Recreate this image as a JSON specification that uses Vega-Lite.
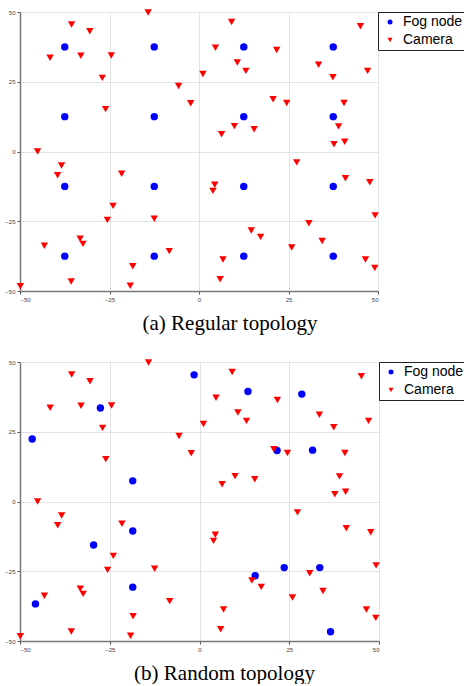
{
  "$schema": "https://vega.github.io/schema/vega-lite/v6.json",
  "padding": {"left": 3, "top": 9, "right": 0, "bottom": 0},
  "background": "white",
  "datasets": {
    "points": [
      {"topology": "regular", "kind": "Fog node", "x": -37.5, "y": 37.5},
      {"topology": "regular", "kind": "Fog node", "x": -12.5, "y": 37.5},
      {"topology": "regular", "kind": "Fog node", "x": 12.5, "y": 37.5},
      {"topology": "regular", "kind": "Fog node", "x": 37.5, "y": 37.5},
      {"topology": "regular", "kind": "Fog node", "x": -37.5, "y": 12.5},
      {"topology": "regular", "kind": "Fog node", "x": -12.5, "y": 12.5},
      {"topology": "regular", "kind": "Fog node", "x": 12.5, "y": 12.5},
      {"topology": "regular", "kind": "Fog node", "x": 37.5, "y": 12.5},
      {"topology": "regular", "kind": "Fog node", "x": -37.5, "y": -12.5},
      {"topology": "regular", "kind": "Fog node", "x": -12.5, "y": -12.5},
      {"topology": "regular", "kind": "Fog node", "x": 12.5, "y": -12.5},
      {"topology": "regular", "kind": "Fog node", "x": 37.5, "y": -12.5},
      {"topology": "regular", "kind": "Fog node", "x": -37.5, "y": -37.5},
      {"topology": "regular", "kind": "Fog node", "x": -12.5, "y": -37.5},
      {"topology": "regular", "kind": "Fog node", "x": 12.5, "y": -37.5},
      {"topology": "regular", "kind": "Fog node", "x": 37.5, "y": -37.5},
      {"topology": "random", "kind": "Fog node", "x": -46.6, "y": 22.4},
      {"topology": "random", "kind": "Fog node", "x": -27.6, "y": 33.5},
      {"topology": "random", "kind": "Fog node", "x": -1.5, "y": 45.4},
      {"topology": "random", "kind": "Fog node", "x": -18.6, "y": 7.4},
      {"topology": "random", "kind": "Fog node", "x": 13.5, "y": 39.4},
      {"topology": "random", "kind": "Fog node", "x": 28.5, "y": 38.5},
      {"topology": "random", "kind": "Fog node", "x": 21.6, "y": 18.3},
      {"topology": "random", "kind": "Fog node", "x": 31.5, "y": 18.4},
      {"topology": "random", "kind": "Fog node", "x": -18.6, "y": -10.6},
      {"topology": "random", "kind": "Fog node", "x": -29.5, "y": -15.6},
      {"topology": "random", "kind": "Fog node", "x": -18.6, "y": -30.7},
      {"topology": "random", "kind": "Fog node", "x": -45.7, "y": -36.7},
      {"topology": "random", "kind": "Fog node", "x": 23.6, "y": -23.7},
      {"topology": "random", "kind": "Fog node", "x": 33.5, "y": -23.7},
      {"topology": "random", "kind": "Fog node", "x": 15.5, "y": -26.6},
      {"topology": "random", "kind": "Fog node", "x": 36.5, "y": -46.7},
      {"topology": "both", "kind": "Camera", "x": -41.6, "y": 33.6},
      {"topology": "both", "kind": "Camera", "x": -35.6, "y": 45.5},
      {"topology": "both", "kind": "Camera", "x": -30.5, "y": 43.1},
      {"topology": "both", "kind": "Camera", "x": -33.0, "y": 34.3},
      {"topology": "both", "kind": "Camera", "x": -24.5, "y": 34.4},
      {"topology": "both", "kind": "Camera", "x": -27.0, "y": 26.4},
      {"topology": "both", "kind": "Camera", "x": -26.1, "y": 15.2},
      {"topology": "both", "kind": "Camera", "x": -14.2, "y": 49.8},
      {"topology": "both", "kind": "Camera", "x": -5.7, "y": 23.5},
      {"topology": "both", "kind": "Camera", "x": -2.3, "y": 17.3},
      {"topology": "both", "kind": "Camera", "x": 1.1, "y": 27.8},
      {"topology": "both", "kind": "Camera", "x": 4.6, "y": 37.2},
      {"topology": "both", "kind": "Camera", "x": 6.3, "y": 6.2},
      {"topology": "both", "kind": "Camera", "x": -45.1, "y": 0.0},
      {"topology": "both", "kind": "Camera", "x": 9.1, "y": 46.4},
      {"topology": "both", "kind": "Camera", "x": 21.7, "y": 36.4},
      {"topology": "both", "kind": "Camera", "x": 10.7, "y": 31.9},
      {"topology": "both", "kind": "Camera", "x": 13.1, "y": 28.9},
      {"topology": "both", "kind": "Camera", "x": 45.1, "y": 44.9},
      {"topology": "both", "kind": "Camera", "x": 33.4, "y": 31.1},
      {"topology": "both", "kind": "Camera", "x": 37.4, "y": 26.6},
      {"topology": "both", "kind": "Camera", "x": 47.1, "y": 28.9},
      {"topology": "both", "kind": "Camera", "x": 20.7, "y": 18.7},
      {"topology": "both", "kind": "Camera", "x": 24.5, "y": 17.4},
      {"topology": "both", "kind": "Camera", "x": 9.9, "y": 9.1},
      {"topology": "both", "kind": "Camera", "x": 15.4, "y": 8.0},
      {"topology": "both", "kind": "Camera", "x": 40.5, "y": 17.4},
      {"topology": "both", "kind": "Camera", "x": 39.0, "y": 9.0},
      {"topology": "both", "kind": "Camera", "x": 37.7, "y": 2.6},
      {"topology": "both", "kind": "Camera", "x": 40.7, "y": 3.5},
      {"topology": "both", "kind": "Camera", "x": -38.4, "y": -5.0},
      {"topology": "both", "kind": "Camera", "x": -39.5, "y": -8.5},
      {"topology": "both", "kind": "Camera", "x": -21.6, "y": -8.0},
      {"topology": "both", "kind": "Camera", "x": -24.0, "y": -19.5},
      {"topology": "both", "kind": "Camera", "x": -25.6, "y": -24.5},
      {"topology": "both", "kind": "Camera", "x": -12.5, "y": -24.1},
      {"topology": "both", "kind": "Camera", "x": -33.2, "y": -31.3},
      {"topology": "both", "kind": "Camera", "x": -32.4, "y": -33.1},
      {"topology": "both", "kind": "Camera", "x": -43.2, "y": -33.8},
      {"topology": "both", "kind": "Camera", "x": -8.3, "y": -35.7},
      {"topology": "both", "kind": "Camera", "x": -18.5, "y": -41.1},
      {"topology": "both", "kind": "Camera", "x": -35.7, "y": -46.6},
      {"topology": "both", "kind": "Camera", "x": -19.2, "y": -48.1},
      {"topology": "both", "kind": "Camera", "x": -49.9, "y": -48.3},
      {"topology": "both", "kind": "Camera", "x": 4.4, "y": -11.9},
      {"topology": "both", "kind": "Camera", "x": 3.9, "y": -14.1},
      {"topology": "both", "kind": "Camera", "x": 6.7, "y": -38.7},
      {"topology": "both", "kind": "Camera", "x": 5.9, "y": -45.8},
      {"topology": "both", "kind": "Camera", "x": 27.3, "y": -3.9},
      {"topology": "both", "kind": "Camera", "x": 40.9, "y": -9.6},
      {"topology": "both", "kind": "Camera", "x": 47.7, "y": -11.0},
      {"topology": "both", "kind": "Camera", "x": 49.2, "y": -22.9},
      {"topology": "both", "kind": "Camera", "x": 30.7, "y": -25.7},
      {"topology": "both", "kind": "Camera", "x": 14.6, "y": -28.3},
      {"topology": "both", "kind": "Camera", "x": 17.2, "y": -30.6},
      {"topology": "both", "kind": "Camera", "x": 34.4, "y": -32.1},
      {"topology": "both", "kind": "Camera", "x": 25.9, "y": -34.4},
      {"topology": "both", "kind": "Camera", "x": 46.5, "y": -38.7},
      {"topology": "both", "kind": "Camera", "x": 49.1, "y": -41.7}
    ]
  },
  "spacing": 25,
  "vconcat": [
    {
      "width": 358,
      "height": 279,
      "data": {"name": "points"},
      "transform": [{"filter": "datum.topology == 'regular' || datum.topology == 'both'"}],
      "title": {"text": "(a) Regular topology", "orient": "bottom", "anchor": "middle", "frame": "group", "dx": 31, "offset": 11},
      "mark": {"type": "point", "filled": true, "opacity": 1, "size": 55},
      "encoding": {
        "x": {"field": "x", "type": "quantitative", "scale": {"domain": [-50, 50], "nice": false}, "axis": {"values": [-50, -25, 0, 25, 50]}},
        "y": {"field": "y", "type": "quantitative", "scale": {"domain": [-50, 50], "nice": false}, "axis": {"values": [-50, -25, 0, 25, 50], "minExtent": 14, "maxExtent": 14}},
        "color": {"field": "kind", "type": "nominal", "scale": {"domain": ["Fog node", "Camera"], "range": ["#0000ff", "#ff0000"]}, "legend": {"title": null}},
        "shape": {"field": "kind", "type": "nominal", "scale": {"domain": ["Fog node", "Camera"], "range": ["circle", "triangle-down"]}, "legend": {"title": null}}
      }
    },
    {
      "width": 359,
      "height": 279,
      "data": {"name": "points"},
      "transform": [{"filter": "datum.topology == 'random' || datum.topology == 'both'"}],
      "title": {"text": "(b) Random topology", "orient": "bottom", "anchor": "middle", "frame": "group", "dx": 25, "offset": 11},
      "mark": {"type": "point", "filled": true, "opacity": 1, "size": 55},
      "encoding": {
        "x": {"field": "x", "type": "quantitative", "scale": {"domain": [-50, 50], "nice": false}, "axis": {"values": [-50, -25, 0, 25, 50]}},
        "y": {"field": "y", "type": "quantitative", "scale": {"domain": [-50, 50], "nice": false}, "axis": {"values": [-50, -25, 0, 25, 50], "minExtent": 16.5, "maxExtent": 16.5}},
        "color": {"field": "kind", "type": "nominal", "scale": {"domain": ["Fog node", "Camera"], "range": ["#0000ff", "#ff0000"]}, "legend": {"title": null}},
        "shape": {"field": "kind", "type": "nominal", "scale": {"domain": ["Fog node", "Camera"], "range": ["circle", "triangle-down"]}, "legend": {"title": null}}
      }
    }
  ],
  "resolve": {"scale": {"color": "independent", "shape": "independent"}, "legend": {"color": "independent", "shape": "independent"}},
  "config": {
    "view": {"stroke": null},
    "title": {"font": "Liberation Serif", "fontSize": 21, "fontWeight": "normal", "color": "black"},
    "axis": {
      "title": null,
      "grid": true,
      "gridColor": "#e3e3e3",
      "gridWidth": 1,
      "domainColor": "#777777",
      "domainWidth": 1.5,
      "tickColor": "#555555",
      "tickSize": 3,
      "labelFont": "Liberation Sans",
      "labelFontSize": 6,
      "labelColor": "#444444",
      "labelPadding": 2
    },
    "legend": {
      "orient": "right",
      "offset": 0,
      "padding": 3,
      "strokeColor": "#222222",
      "strokeWidth": 1,
      "fillColor": "white",
      "labelFont": "Liberation Sans",
      "labelFontSize": 14,
      "labelColor": "black",
      "labelOffset": 6,
      "symbolSize": 25,
      "symbolOpacity": 1,
      "rowPadding": 4,
      "symbolOffset": 2
    }
  }
}
